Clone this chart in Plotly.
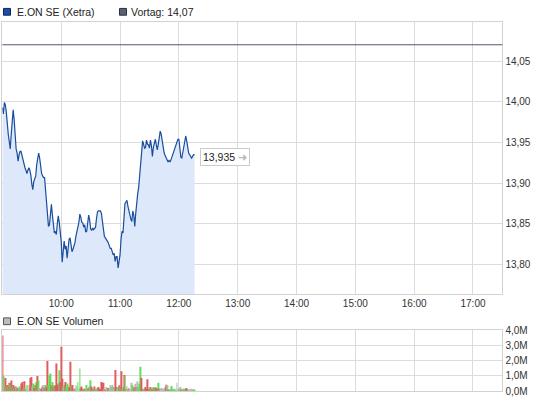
import pandas as pd
import plotly.graph_objects as go

# ---------------- data ----------------
day = "2014-01-02"
start_time = "09:00"
session_end = "17:30"
hour_ticks = ["10:00", "11:00", "12:00", "13:00", "14:00", "15:00", "16:00", "17:00"]
prev_close = 14.07
price_ticks = [13.80, 13.85, 13.90, 13.95, 14.00, 14.05]
volume_ticks = [0, 1, 2, 3, 4]  # millions

# E.ON SE (Xetra), one value per minute from 09:00
price = [
    13.993, 13.985, 13.999, 13.996, 13.987, 13.970, 13.960, 13.951, 13.942, 13.960,
    13.972, 13.990, 13.978, 13.952, 13.942, 13.937, 13.927, 13.935, 13.939, 13.939,
    13.933, 13.930, 13.925, 13.919, 13.916, 13.912, 13.916, 13.919, 13.916, 13.910,
    13.899, 13.892, 13.902, 13.907, 13.909, 13.923, 13.933, 13.937, 13.931, 13.918,
    13.912, 13.909, 13.907, 13.907, 13.889, 13.877, 13.866, 13.847, 13.849, 13.862,
    13.874, 13.861, 13.850, 13.839, 13.841, 13.837, 13.850, 13.860, 13.852, 13.838,
    13.829, 13.803, 13.817, 13.829, 13.819, 13.823, 13.808, 13.819, 13.831, 13.833,
    13.823, 13.816, 13.819, 13.823, 13.827, 13.835, 13.839, 13.846, 13.852, 13.862,
    13.858, 13.852, 13.851, 13.846, 13.849, 13.840, 13.841, 13.851, 13.861, 13.855,
    13.844, 13.842, 13.845, 13.843, 13.844, 13.846, 13.857, 13.865, 13.866, 13.866,
    13.866, 13.863, 13.852, 13.841, 13.835, 13.833, 13.830, 13.829, 13.827, 13.824,
    13.820, 13.820, 13.816, 13.812, 13.814, 13.804, 13.810, 13.810, 13.796, 13.806,
    13.812, 13.831, 13.841, 13.839, 13.860, 13.875, 13.877, 13.879, 13.872, 13.865,
    13.862, 13.856, 13.853, 13.866, 13.861, 13.847, 13.863, 13.879, 13.887, 13.895,
    13.911, 13.929, 13.948, 13.952, 13.948, 13.943, 13.944, 13.953, 13.948, 13.947,
    13.943, 13.953, 13.946, 13.933, 13.944, 13.951, 13.954, 13.947, 13.941, 13.948,
    13.956, 13.964, 13.960, 13.951, 13.941, 13.937, 13.934, 13.931, 13.928, 13.926,
    13.928, 13.926, 13.929, 13.933, 13.935, 13.941, 13.945, 13.948, 13.951, 13.954,
    13.954, 13.943, 13.932, 13.931, 13.937, 13.944, 13.952, 13.958, 13.952, 13.941,
    13.937, 13.935, 13.933, 13.931, 13.933, 13.935, 13.935,
]
last_price = 13.935

# volume per minute, millions
volume = [
    3.67, 1.00, 0.25, 0.87, 0.30, 0.40, 0.30, 0.55, 0.50, 0.70,
    0.30, 0.40, 0.20, 0.30, 0.30, 0.20, 0.15, 0.30, 0.10, 0.50,
    0.60, 0.10, 0.65, 0.25, 0.10, 0.40, 0.40, 0.15, 0.40, 0.87,
    0.93, 0.30, 0.50, 0.20, 0.40, 0.60, 1.00, 0.70, 0.20, 0.10,
    0.15, 0.30, 0.40, 0.20, 0.40, 0.25, 1.98, 0.40, 1.04, 1.16,
    0.40, 0.60, 0.30, 0.40, 0.35, 1.82, 0.40, 0.50, 1.38, 0.60,
    2.93, 0.82, 0.30, 0.40, 0.60, 0.30, 0.50, 0.30, 0.25, 1.93,
    0.30, 0.40, 0.15, 0.15, 0.15, 0.40, 0.30, 0.60, 0.10, 1.49,
    0.20, 0.30, 0.15, 0.10, 0.15, 0.15, 0.40, 0.15, 0.20, 0.30,
    0.71, 0.30, 0.15, 0.10, 0.30, 0.15, 0.10, 0.20, 0.27, 0.15,
    0.12, 0.60, 0.55, 0.55, 0.15, 0.10, 0.27, 0.15, 0.20, 0.12,
    0.38, 0.27, 0.42, 0.27, 0.15, 1.40, 0.27, 0.15, 0.27, 0.38,
    0.27, 1.31, 0.15, 0.27, 1.07, 1.00, 0.15, 0.33, 0.15, 0.20,
    0.15, 0.11, 0.55, 0.38, 0.20, 0.27, 0.49, 0.27, 0.64, 0.27,
    0.49, 1.60, 0.87, 0.15, 0.11, 0.15, 0.27, 0.15, 0.78, 0.15,
    0.15, 0.27, 0.15, 0.15, 0.27, 0.20, 0.27, 0.20, 0.20, 0.56,
    0.15, 0.15, 0.20, 0.15, 0.15, 0.15, 0.27, 0.42, 0.38, 0.11,
    0.11, 0.11, 0.33, 0.15, 0.11, 0.15, 0.11, 0.11, 0.56, 0.15,
    0.15, 0.15, 0.27, 0.11, 0.11, 0.15, 0.15, 0.11, 0.20, 0.05,
    0.05, 0.10, 0.05, 0.15, 0.05, 0.10, 0.05,
]

# bar colour per minute: r = down, g = up, n = unchanged
volume_dir = list(
    "rgnrgrgrgr"
    "grgrnrgggr"
    "rnrgrggnrr"
    "rngrrgrgng"
    "rrnrgrrggg"
    "rgrgrrrrgr"
    "rrngrgggrr"
    "grrnrngggg"
    "grrnrggnrg"
    "grrnrgggrr"
    "rrrrnrngrn"
    "ngngnrrngr"
    "grggrgrgrr"
    "nnnggrnrng"
    "ggrrggrrrr"
    "grgrgrgrrg"
    "rnnnnngrnr"
    "gggggnggng"
    "grnrggggrr"
    "nnnnngg"
)

col_map = {"r": "#e05c5c", "g": "#62dc5a", "n": "#b9b9b9"}

# ---------------- figure ----------------
t0 = pd.Timestamp(f"{day} {start_time}")
times = pd.date_range(t0, periods=len(price), freq="1min")
vtimes = pd.date_range(t0, periods=len(volume), freq="1min")
x_range = [t0, pd.Timestamp(f"{day} {session_end}")]
tickvals = [pd.Timestamp(f"{day} {h}") for h in hour_ticks]

W, H = 545, 401
FONT = "Liberation Sans, Arial, sans-serif"
GRID = "#dcdcdc"
FRAME = "#d2d2d2"

x0p, x1p = 2.4 / W, 502.4 / W

fig = go.Figure()

fig.add_trace(go.Scatter(
    x=times, y=price, mode="lines",
    line=dict(color="#1a4d9e", width=1.2),
    fill="tozeroy", fillcolor="#dde9fa",
    hoverinfo="skip", showlegend=False, xaxis="x", yaxis="y",
))

fig.add_trace(go.Bar(
    x=vtimes, y=volume,
    marker=dict(color=[col_map[c] for c in volume_dir[:len(volume)]], line=dict(width=0)),
    hoverinfo="skip", showlegend=False, xaxis="x2", yaxis="y2",
))

axis_common = dict(
    showline=True, mirror=True, linecolor=FRAME, linewidth=1,
    showgrid=True, gridcolor=GRID, gridwidth=1, zeroline=False,
    tickfont=dict(family=FONT, size=10, color="#333333"),
    ticklabeloverflow="allow",
)

fig.update_layout(
    width=W, height=H,
    margin=dict(l=0, r=0, t=0, b=0),
    paper_bgcolor="white", plot_bgcolor="white",
    separators=",.",
    bargap=0.08,
    xaxis=dict(
        domain=[x0p, x1p], range=x_range, type="date",
        tickvals=tickvals, tickformat="%H:%M", ticks="", **axis_common,
    ),
    yaxis=dict(
        domain=[1 - 297 / H, 1 - 16 / H], range=[13.7639, 14.0985],
        side="right", tickvals=price_ticks, tickformat=".2f", ticks="",
        **axis_common,
    ),
    xaxis2=dict(
        domain=[x0p, x1p], range=x_range, type="date", anchor="y2",
        tickvals=tickvals, showticklabels=False, ticks="", **axis_common,
    ),
    yaxis2=dict(
        domain=[1 - 397 / H, 1 - 334.5 / H], range=[0, 4], anchor="x2",
        side="right", tickvals=volume_ticks,
        ticktext=[f"{v:.1f}".replace(".", ",") + "M" for v in volume_ticks],
        ticks="", **axis_common,
    ),
)

# previous close line
fig.add_shape(type="line", xref="paper", yref="y", x0=x0p, x1=x1p,
              y0=prev_close, y1=prev_close, line=dict(color="#4f5877", width=1.2))

# legend squares
def square(x0, y0, x1, y1, fill, border):
    fig.add_shape(type="rect", xref="paper", yref="paper",
                  x0=x0 / W, x1=x1 / W, y0=1 - y1 / H, y1=1 - y0 / H,
                  fillcolor=fill, line=dict(color=border, width=1))

square(3.5, 2.5, 10.5, 9.5, "#1d4f9e", "#0e2a5c")
square(119.5, 2.5, 126.5, 9.5, "#5b6173", "#2e3240")
square(3.5, 321.5, 10.5, 328.5, "#bdbdbd", "#555555")

def label(x, y, text):
    fig.add_annotation(xref="paper", yref="paper", x=x / W, y=1 - y / H,
                       text=text, showarrow=False, xanchor="left", yanchor="middle",
                       font=dict(family=FONT, size=10.5, color="#222222"))

label(14.5, 6.5, "E.ON SE (Xetra)")
label(129, 6.5, "Vortag: " + f"{prev_close:.2f}".replace(".", ","))
label(14.5, 325, "E.ON SE Volumen")

# last price box
fig.add_annotation(
    x=times[len(price) - 1], y=last_price, xref="x", yref="y",
    text=f"{last_price:.3f}".replace(".", ",") + " <span style='color:#b5b5b5'>➜</span>",
    showarrow=False, xanchor="left", yanchor="middle", xshift=5, yshift=-2,
    font=dict(family=FONT, size=10.5, color="#222222"),
    bgcolor="white", bordercolor="#cccccc", borderwidth=1, borderpad=2,
)

fig.write_html(
    "out.html",
    config={"displayModeBar": False},
    post_script="document.body.style.margin='0';document.body.style.overflow='hidden';",
)
